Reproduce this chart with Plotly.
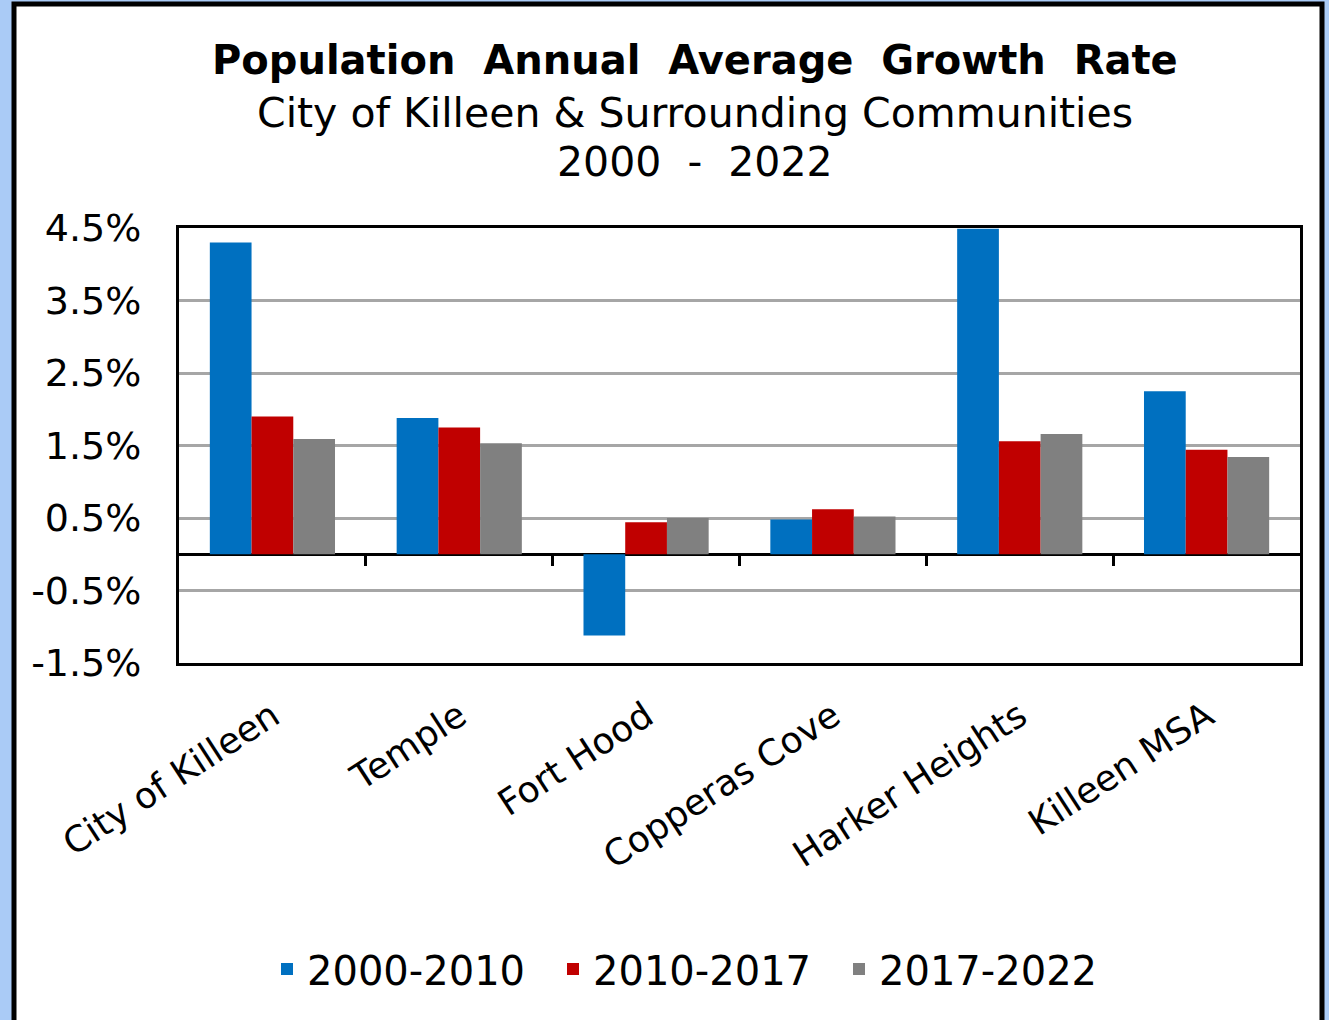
import plotly.graph_objects as go

categories = ["City of Killeen", "Temple", "Fort Hood", "Copperas Cove", "Harker Heights", "Killeen MSA"]
series_names = ["2000-2010", "2010-2017", "2017-2022"]
growth_2000_2010 = [4.30, 1.88, -1.12, 0.48, 4.49, 2.25]
growth_2010_2017 = [1.90, 1.75, 0.44, 0.62, 1.56, 1.44]
growth_2017_2022 = [1.59, 1.53, 0.50, 0.52, 1.66, 1.34]
y_tick_values = [-1.5, -0.5, 0.5, 1.5, 2.5, 3.5, 4.5]
y_tick_labels = ["-1.5%", "-0.5%", "0.5%", "1.5%", "2.5%", "3.5%", "4.5%"]
colors = ["#0070C0", "#C00000", "#808080"]

W, H = 1329, 1020
L, R, T, B = 179, 1300, 228, 663  # plot area in pixels


def px_x(p):
    return (p - L) / (R - L)


def px_y(p):
    return (B - p) / (B - T)


FONT = "DejaVu Sans"

fig = go.Figure()
for name, vals, col in zip(series_names, [growth_2000_2010, growth_2010_2017, growth_2017_2022], colors):
    fig.add_trace(go.Bar(name=name, x=categories, y=vals, marker=dict(color=col, line=dict(width=0))))

fig.update_layout(
    width=W, height=H,
    margin=dict(l=L, r=W - R, t=T, b=H - B, pad=0),
    paper_bgcolor="#AACBF6",
    plot_bgcolor="white",
    barmode="group",
    bargap=0.33,
    bargroupgap=0,
    font=dict(family=FONT, color="black", size=36),
    showlegend=True,
    legend=dict(orientation="h", x=px_x(267), y=px_y(969), xanchor="left", yanchor="middle",
                font=dict(size=40, family=FONT, color="black"), bgcolor="rgba(0,0,0,0)",
                itemwidth=30, tracegroupgap=0, entrywidth=241, entrywidthmode="pixels"),
    xaxis=dict(
        type="category", range=[-0.5, 5.5], showgrid=False, ticks="",
        tickangle=-33, tickfont=dict(size=36, family=FONT, color="black"),
        showline=True, linecolor="black", linewidth=3, mirror=True,
        ticklabelstandoff=15, zeroline=False,
    ),
    yaxis=dict(
        range=[-1.5, 4.5], tickvals=y_tick_values, ticktext=y_tick_labels,
        showgrid=True, gridcolor="#A6A6A6", gridwidth=3,
        zeroline=True, zerolinecolor="black", zerolinewidth=3,
        showline=True, linecolor="black", linewidth=3, mirror=True,
        ticks="", tickfont=dict(size=38, family=FONT, color="black"),
        ticklabelstandoff=27,
    ),
    xaxis2=dict(
        overlaying="x", anchor="free", position=0.25, range=[-0.5, 5.5],
        tickvals=[0.5, 1.5, 2.5, 3.5, 4.5], ticks="outside", ticklen=11, tickwidth=3,
        tickcolor="black", showticklabels=False, showgrid=False, zeroline=False,
        showline=False, side="bottom",
    ),
)

# outer white panel with black frame
fig.add_shape(type="rect", xref="paper", yref="paper",
              x0=px_x(14), x1=px_x(1322), y0=px_y(1040), y1=px_y(4),
              fillcolor="white", line=dict(color="black", width=5), layer="below")

titles = [
    ("<b>Population  Annual  Average  Growth  Rate</b>", 40, 60),
    ("City of Killeen & Surrounding Communities", 41, 113),
    ("2000  -  2022", 41, 162),
]
for text, size, yc in titles:
    fig.add_annotation(text=text, xref="paper", yref="paper", x=px_x(695), y=px_y(yc),
                       xanchor="center", yanchor="middle", showarrow=False,
                       font=dict(size=size, family=FONT, color="black"))

# invisible trace to realize the zero-line tick axis
fig.add_trace(go.Scatter(x=[], y=[], xaxis="x2", yaxis="y", showlegend=False, hoverinfo="skip"))

fig.write_html("out.html")
